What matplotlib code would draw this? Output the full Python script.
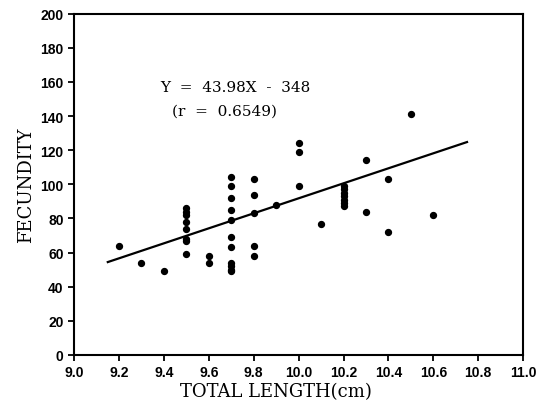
import numpy as np
import matplotlib
matplotlib.use('Agg')
import matplotlib.pyplot as plt

# data
length = [9.2, 9.3, 9.4,
          9.5, 9.5, 9.5, 9.5, 9.5, 9.5, 9.5, 9.5,
          9.6, 9.6,
          9.7, 9.7, 9.7, 9.7, 9.7, 9.7, 9.7, 9.7, 9.7, 9.7, 9.7,
          9.8, 9.8, 9.8, 9.8, 9.8,
          9.9,
          10.0, 10.0, 10.0,
          10.1,
          10.2, 10.2, 10.2, 10.2, 10.2, 10.2, 10.2,
          10.3, 10.3,
          10.4, 10.4,
          10.5,
          10.6]
fecundity = [64, 54, 49,
             86, 84, 82, 78, 74, 68, 67, 59,
             58, 54,
             104, 99, 92, 85, 79, 69, 63, 54, 52, 50, 49,
             103, 94, 83, 64, 58,
             88,
             124, 119, 99,
             77,
             99, 97, 95, 93, 91, 89, 87,
             114, 84,
             103, 72,
             141,
             82]

slope = 43.98
intercept = -348
line_x = [9.15, 10.75]

fig = plt.figure(figsize=(5.41, 4.10), dpi=100)
ax = fig.add_axes([0.137, 0.132, 0.830, 0.832])

ax.scatter(length, fecundity, s=18, color='black', zorder=3)
lx = np.array(line_x)
ax.plot(lx, slope * lx + intercept, color='black', linewidth=1.6)

ax.set_xlim(9.0, 11.0)
ax.set_ylim(0, 200)
ax.set_xticks(np.arange(9.0, 11.01, 0.2))
ax.set_xticklabels(['9.0', '9.2', '9.4', '9.6', '9.8', '10.0', '10.2',
                    '10.4', '10.6', '10.8', '11.0'])
ax.set_yticks(range(0, 201, 20))

for s in ax.spines.values():
    s.set_linewidth(1.5)
ax.tick_params(direction='out', length=4, width=1.3, labelsize=10)
for lab in ax.get_xticklabels() + ax.get_yticklabels():
    lab.set_family('Liberation Sans')
    lab.set_fontweight('bold')

ax.text(9.72, 157, 'Y  =  43.98X  -  348', ha='center', va='center',
        family='DejaVu Serif', fontsize=11)
ax.text(9.67, 143, '(r  =  0.6549)', ha='center', va='center',
        family='DejaVu Serif', fontsize=11)

ax.set_xlabel('TOTAL LENGTH(cm)', family='DejaVu Serif', fontsize=13)
ax.set_ylabel('FECUNDITY', family='DejaVu Serif', fontsize=13)
ax.xaxis.set_label_coords(0.45, -0.08)

fig.savefig('out.png', dpi=100)
